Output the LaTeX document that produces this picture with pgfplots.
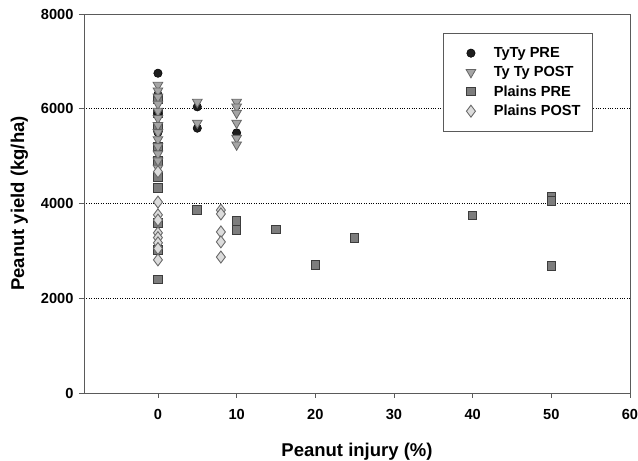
\documentclass[border=0pt]{standalone}
\usepackage{fontspec}
\setmainfont{Liberation Sans}
\usepackage{pgfplots}
\pgfplotsset{compat=1.18}
\definecolor{circfill}{RGB}{30,30,30}
\definecolor{trifill}{RGB}{165,165,165}
\definecolor{triedge}{RGB}{100,100,100}
\definecolor{sqfill}{RGB}{125,125,125}
\definecolor{sqedge}{RGB}{60,60,60}
\definecolor{dmfill}{RGB}{220,220,220}
\definecolor{dmedge}{RGB}{105,105,105}
\definecolor{axgray}{RGB}{90,90,90}
\begin{document}
\begin{tikzpicture}
\begin{axis}[
  name=ax,
  scale only axis,
  width=546bp, height=379bp,
  xmin=-9.4, xmax=60, ymin=0, ymax=8000,
  xtick={0,10,20,30,40,50,60},
  ytick={0,2000,4000,6000,8000},
  tick align=outside,
  major tick length=5bp,
  tick style={axgray, line width=0.8pt},
  axis line style={axgray, line width=0.8pt},
  xtick pos=bottom, ytick pos=left,
  ymajorgrids,
  grid style={black, dotted, line width=0.8pt},
  /pgf/number format/assume math mode=true,
  /pgf/number format/1000 sep={},
  tick label style={font=\fontsize{14.6bp}{16bp}\selectfont\bfseries},
  xticklabel style={yshift=-8bp},
  yticklabel style={xshift=-2bp},
  label style={font=\fontsize{18.5bp}{20bp}\selectfont\bfseries},
  xlabel={Peanut injury (\%)},
  ylabel={Peanut yield (kg/ha)},
  xlabel style={yshift=-16bp},
  ylabel style={yshift=6bp},
  clip=false,
  legend cell align=left,
  legend image code/.code={\path (0,0); \draw[#1] plot coordinates {(17bp,0)};},
  legend style={at={(1,1)}, anchor=north east, xshift=-37bp, yshift=-19bp,
    draw=axgray, line width=0.8pt, fill=white,
    font=\fontsize{14.6bp}{16bp}\selectfont\bfseries,
    inner xsep=10bp, inner ysep=12bp, row sep=3.5bp,
    /tikz/every odd column/.append style={column sep=16bp}},
]
% Plains PRE drawn first (behind the others)
\addplot[forget plot, only marks, mark=square*, mark size=4.3bp, mark options={fill=sqfill, draw=sqedge, line width=1pt}]
coordinates {(0,6200) (0,5900) (0,5600) (0,5200) (0,4900) (0,4560) (0,4330) (0,3590) (0,3020) (0,2400)
(5,3860) (10,3630) (10,3440) (15,3450) (20,2700) (25,3270) (40,3750) (50,4150) (50,4050) (50,2680)};
\addplot[only marks, mark=*, mark size=4.2bp, mark options={fill=circfill, draw=black, line width=0.5pt}]
coordinates {(0,6750) (0,6300) (0,5900) (0,5500) (5,6040) (5,5590) (10,5490)};
\addlegendentry{TyTy PRE}
\addplot[only marks, mark=triangle*, mark size=5.6bp, mark options={rotate=180, fill=trifill, draw=triedge, line width=0.8pt}]
coordinates {(0,6500) (0,6380) (0,6250) (0,6100) (0,5950) (0,5800) (0,5650) (0,5500) (0,5350) (0,5200) (0,5050) (0,4900) (0,4750)
(5,6140) (5,5700) (10,6140) (10,6040) (10,5910) (10,5700) (10,5380) (10,5240)};
\addlegendentry{Ty Ty POST}
\addlegendimage{only marks, mark=square*, mark size=4.3bp, mark options={fill=sqfill, draw=sqedge, line width=1pt}}
\addlegendentry{Plains PRE}
\addplot[only marks, mark=diamond*, mark size=6bp, mark options={fill=dmfill, draw=dmedge, line width=0.9pt}]
coordinates {(0,4670) (0,4030) (0,3760) (0,3650) (0,3380) (0,3280) (0,3170) (0,3050) (0,2810)
(8,3860) (8,3780) (8,3400) (8,3190) (8,2870)};
\addlegendentry{Plains POST}
\end{axis}
\pgfresetboundingbox
\path ([xshift=-84bp,yshift=-68bp]ax.south west) rectangle ([xshift=8bp,yshift=14bp]ax.north east);
\end{tikzpicture}
\end{document}
